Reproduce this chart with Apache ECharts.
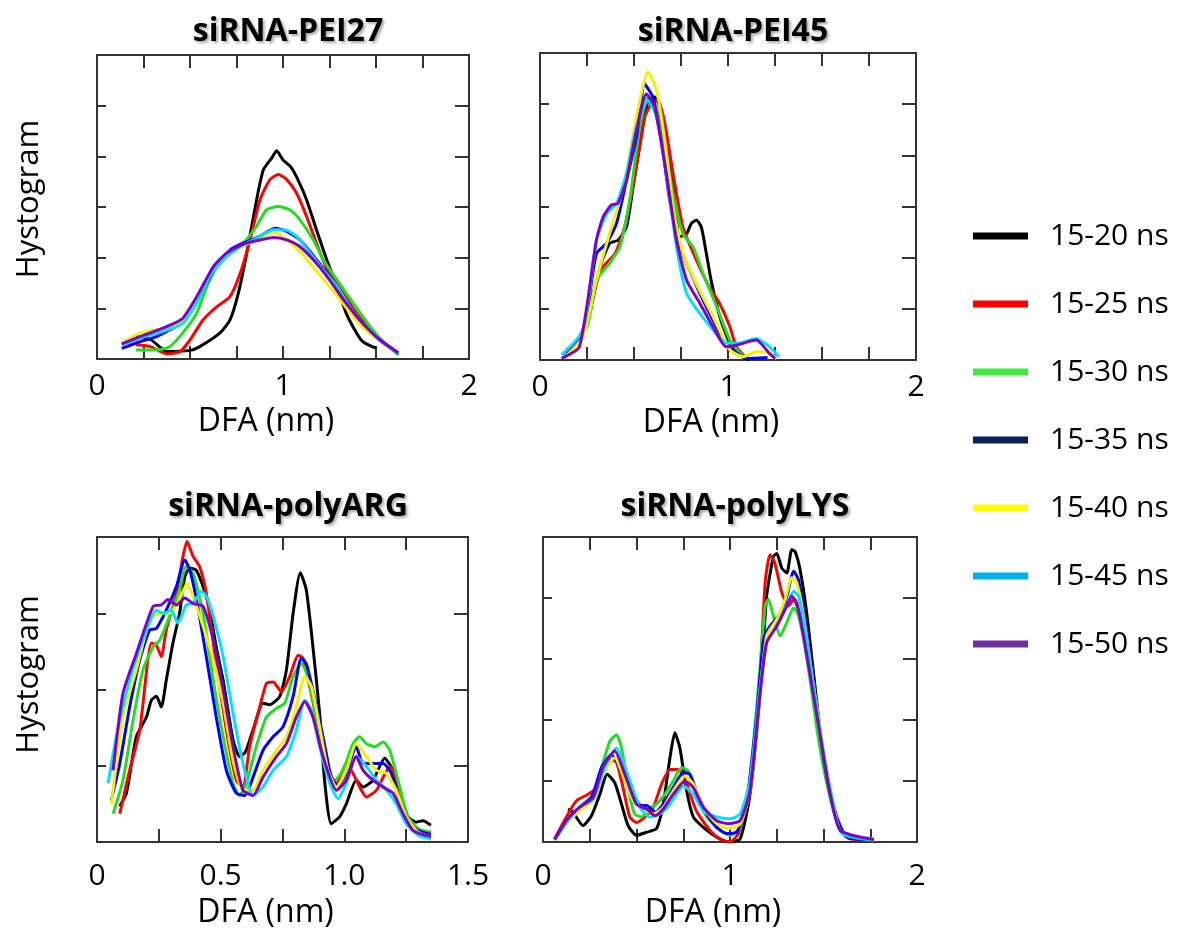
<!DOCTYPE html>
<html>
<head>
<meta charset="utf-8">
<script src="https://cdn.jsdelivr.net/npm/echarts@6/dist/echarts.min.js"></script>
<style>
html,body{margin:0;padding:0;background:#fff;}
#chart{width:1189px;height:930px;}
</style>
</head>
<body>
<div id="chart"></div>
<script>
// ---------- DATA ----------
const seriesNames = ['15-20 ns','15-25 ns','15-30 ns','15-35 ns','15-40 ns','15-45 ns','15-50 ns'];
const panelTitles = ['siRNA-PEI27','siRNA-PEI45','siRNA-polyARG','siRNA-polyLYS'];
const xTickLabelsPanel3 = ['0','0.5','1.0','1.5'];

// Panel 1: siRNA-PEI27  [DFA, histogram]
const pei27_1520 = [[0.21,0.44],[0.29,0.38],[0.375,0.15],[0.5,0.17],[0.55,0.24],[0.66,0.51],[0.715,0.77],[0.76,1.3],[0.805,2.09],[0.858,3.14],[0.894,3.73],[0.94,3.97],[0.966,4.11],[1.0,3.93],[1.04,3.8],[1.08,3.54],[1.127,3.14],[1.18,2.55],[1.235,1.96],[1.29,1.43],[1.34,0.9],[1.396,0.51],[1.43,0.34],[1.5,0.21]];
const pei27_1525 = [[0.21,0.28],[0.29,0.24],[0.375,0.1],[0.446,0.145],[0.5,0.375],[0.57,0.77],[0.643,1.03],[0.715,1.23],[0.77,1.69],[0.823,2.35],[0.876,3.14],[0.93,3.54],[0.975,3.64],[1.02,3.54],[1.073,3.27],[1.127,2.81],[1.2,2.09],[1.25,1.69],[1.325,1.3],[1.396,0.9],[1.486,0.51],[1.54,0.31],[1.62,0.11]];
const pei27_1530 = [[0.21,0.18],[0.32,0.18],[0.39,0.24],[0.46,0.51],[0.536,0.9],[0.59,1.43],[0.643,1.82],[0.715,2.09],[0.787,2.29],[0.858,2.62],[0.91,2.94],[0.975,3.01],[1.038,2.94],[1.09,2.75],[1.163,2.35],[1.217,1.96],[1.29,1.56],[1.378,1.1],[1.468,0.64],[1.54,0.34],[1.62,0.08]];
const pei27_1535 = [[0.133,0.21],[0.23,0.34],[0.32,0.44],[0.446,0.7],[0.518,1.03],[0.59,1.5],[0.643,1.82],[0.715,2.15],[0.787,2.29],[0.876,2.42],[0.957,2.58],[1.02,2.52],[1.09,2.35],[1.18,1.96],[1.25,1.63],[1.325,1.23],[1.396,0.84],[1.486,0.47],[1.557,0.28],[1.62,0.11]];
const pei27_1540 = [[0.133,0.31],[0.23,0.51],[0.375,0.62],[0.46,0.75],[0.536,1.15],[0.607,1.68],[0.68,1.98],[0.77,2.2],[0.858,2.36],[0.95,2.5],[1.02,2.35],[1.1,2.09],[1.19,1.69],[1.28,1.3],[1.36,0.92],[1.43,0.62],[1.52,0.36],[1.62,0.12]];
const pei27_1545 = [[0.133,0.28],[0.23,0.41],[0.375,0.57],[0.46,0.7],[0.536,1.1],[0.607,1.63],[0.68,1.96],[0.77,2.22],[0.858,2.38],[0.95,2.55],[1.02,2.54],[1.073,2.42],[1.145,2.09],[1.217,1.76],[1.29,1.43],[1.36,1.03],[1.43,0.7],[1.52,0.38],[1.62,0.11]];
const pei27_1550 = [[0.133,0.3],[0.23,0.44],[0.375,0.64],[0.46,0.8],[0.536,1.23],[0.625,1.82],[0.697,2.09],[0.787,2.27],[0.876,2.35],[0.95,2.4],[1.02,2.35],[1.09,2.22],[1.18,1.89],[1.25,1.56],[1.34,1.1],[1.43,0.7],[1.52,0.38],[1.62,0.125]];

// Panel 2: siRNA-PEI45
const pei45_1520 = [[0.14,0.2],[0.18,0.29],[0.25,0.72],[0.32,1.82],[0.37,2.28],[0.415,2.34],[0.46,2.6],[0.495,3.38],[0.55,4.62],[0.575,5.07],[0.61,5.14],[0.637,4.94],[0.672,4.29],[0.708,3.45],[0.743,2.41],[0.78,2.47],[0.805,2.67],[0.832,2.73],[0.858,2.6],[0.885,2.08],[0.91,1.56],[0.956,0.85],[1.01,0.33],[1.08,0.065],[1.115,0.0]];
const pei45_1525 = [[0.124,0.03],[0.21,0.39],[0.28,1.3],[0.336,1.82],[0.4,2.08],[0.45,2.6],[0.5,3.51],[0.557,4.75],[0.593,5.01],[0.628,5.07],[0.664,4.62],[0.708,3.64],[0.76,2.6],[0.832,1.95],[0.9,1.43],[0.956,1.1],[1.01,0.65],[1.044,0.26],[1.09,0.065]];
const pei45_1530 = [[0.124,0.03],[0.25,0.65],[0.3,1.56],[0.37,1.89],[0.425,2.21],[0.48,3.19],[0.53,4.55],[0.575,5.14],[0.61,5.01],[0.655,4.42],[0.708,3.25],[0.76,2.47],[0.814,2.21],[0.867,1.69],[0.94,1.04],[1.01,0.39],[1.08,0.065]];
const pei45_1535 = [[0.124,0.03],[0.23,0.59],[0.3,2.08],[0.354,2.28],[0.407,2.67],[0.46,3.51],[0.513,4.36],[0.557,5.4],[0.575,5.3],[0.6,5.14],[0.646,4.29],[0.69,3.12],[0.743,2.21],[0.796,1.76],[0.85,1.3],[0.92,0.78],[0.99,0.33],[1.1,0.03],[1.21,0.05]];
const pei45_1540 = [[0.124,0.03],[0.23,0.46],[0.3,1.56],[0.37,2.47],[0.44,3.32],[0.513,4.75],[0.575,5.63],[0.62,5.27],[0.664,4.29],[0.708,2.99],[0.76,2.08],[0.83,1.5],[0.92,0.85],[1.01,0.2],[1.08,0.065],[1.15,0.16],[1.22,0.13],[1.26,0.03]];
const pei45_1545 = [[0.115,0.1],[0.23,0.59],[0.3,2.34],[0.354,2.86],[0.407,3.06],[0.46,3.64],[0.513,4.55],[0.575,5.07],[0.62,4.75],[0.672,3.64],[0.726,2.21],[0.78,1.3],[0.85,0.91],[0.92,0.59],[0.99,0.33],[1.06,0.33],[1.15,0.42],[1.22,0.26],[1.27,0.065]];
const pei45_1550 = [[0.115,0.03],[0.21,0.26],[0.3,2.34],[0.336,2.8],[0.38,3.03],[0.415,3.06],[0.46,3.51],[0.513,4.49],[0.566,5.2],[0.61,4.94],[0.672,3.64],[0.726,2.34],[0.78,1.56],[0.85,1.11],[0.92,0.65],[0.99,0.26],[1.044,0.29],[1.15,0.39],[1.22,0.13],[1.25,0.03]];

// Panel 3: siRNA-polyARG
const parg_1520 = [[0.092,0.47],[0.119,0.64],[0.159,1.38],[0.2,1.64],[0.22,1.86],[0.24,1.91],[0.26,1.77],[0.28,2.12],[0.307,2.61],[0.334,3.0],[0.355,3.48],[0.375,3.59],[0.4,3.57],[0.429,3.35],[0.456,3.04],[0.482,2.56],[0.51,2.12],[0.55,1.34],[0.577,1.12],[0.6,1.18],[0.631,1.47],[0.671,1.82],[0.698,1.8],[0.739,1.91],[0.766,2.26],[0.793,3.0],[0.822,3.53],[0.846,3.31],[0.873,2.56],[0.9,1.69],[0.92,0.81],[0.947,0.24],[0.981,0.33],[1.008,0.5],[1.048,0.81],[1.076,0.72],[1.116,0.81],[1.163,1.1],[1.197,0.94],[1.23,0.59],[1.257,0.33],[1.29,0.26],[1.318,0.28],[1.35,0.22]];
const parg_1525 = [[0.092,0.37],[0.132,0.94],[0.173,1.47],[0.22,2.61],[0.24,2.58],[0.26,2.43],[0.28,2.78],[0.321,3.26],[0.348,3.75],[0.364,3.94],[0.388,3.75],[0.415,3.61],[0.442,3.26],[0.482,2.34],[0.523,1.47],[0.563,0.81],[0.59,0.72],[0.617,1.25],[0.658,1.77],[0.685,2.08],[0.712,2.1],[0.745,1.97],[0.779,2.17],[0.813,2.45],[0.833,2.41],[0.86,2.04],[0.9,1.42],[0.934,0.85],[0.968,0.77],[1.008,1.03],[1.035,0.9],[1.062,0.72],[1.089,0.59],[1.13,0.68],[1.157,0.85],[1.184,0.99],[1.217,0.77],[1.244,0.37],[1.278,0.2],[1.35,0.11]];
const parg_1530 = [[0.065,0.37],[0.105,0.81],[0.146,1.6],[0.186,2.26],[0.227,2.56],[0.254,2.65],[0.294,2.96],[0.334,3.31],[0.36,3.61],[0.388,3.53],[0.429,3.0],[0.47,2.12],[0.51,1.38],[0.55,0.77],[0.577,0.61],[0.604,0.77],[0.644,1.25],[0.685,1.64],[0.725,1.75],[0.759,1.82],[0.793,2.17],[0.826,2.34],[0.853,2.17],[0.887,1.64],[0.927,1.03],[0.961,0.81],[0.995,0.94],[1.035,1.29],[1.062,1.38],[1.089,1.29],[1.123,1.25],[1.157,1.31],[1.184,1.2],[1.224,0.72],[1.257,0.33],[1.298,0.175],[1.35,0.13]];
const parg_1535 = [[0.058,0.55],[0.092,1.03],[0.132,1.77],[0.173,2.39],[0.213,2.78],[0.24,2.8],[0.28,3.04],[0.321,3.35],[0.355,3.7],[0.375,3.57],[0.402,3.18],[0.442,2.43],[0.482,1.64],[0.523,0.94],[0.563,0.64],[0.597,0.61],[0.631,0.85],[0.671,1.2],[0.712,1.38],[0.752,1.51],[0.793,1.91],[0.826,2.41],[0.846,2.34],[0.873,1.99],[0.914,1.38],[0.947,0.85],[0.974,0.74],[1.008,0.9],[1.048,1.25],[1.076,1.03],[1.116,1.03],[1.157,1.03],[1.19,0.9],[1.224,0.55],[1.257,0.28],[1.298,0.15],[1.35,0.1]];
const parg_1540 = [[0.058,0.5],[0.105,1.64],[0.159,2.26],[0.213,2.91],[0.254,3.0],[0.294,3.0],[0.334,3.18],[0.364,3.39],[0.388,3.22],[0.429,2.83],[0.47,2.39],[0.51,1.82],[0.55,1.07],[0.59,0.68],[0.631,0.68],[0.671,0.94],[0.725,1.2],[0.766,1.38],[0.806,1.77],[0.84,2.17],[0.867,2.04],[0.9,1.51],[0.934,0.94],[0.968,0.72],[1.008,0.94],[1.048,1.29],[1.089,1.12],[1.13,0.94],[1.17,0.9],[1.21,0.68],[1.25,0.33],[1.298,0.13],[1.35,0.07]];
const parg_1545 = [[0.045,0.77],[0.078,1.38],[0.132,2.12],[0.2,2.78],[0.24,3.04],[0.267,3.0],[0.3,3.04],[0.327,2.87],[0.361,3.11],[0.388,3.13],[0.422,3.29],[0.442,3.22],[0.47,2.96],[0.51,2.43],[0.55,1.69],[0.59,1.03],[0.631,0.61],[0.671,0.72],[0.712,0.94],[0.766,1.12],[0.806,1.47],[0.84,1.86],[0.867,1.73],[0.9,1.25],[0.941,0.77],[0.974,0.57],[1.008,0.77],[1.048,1.12],[1.089,0.99],[1.13,0.81],[1.17,0.68],[1.21,0.5],[1.25,0.24],[1.298,0.09],[1.35,0.04]];
const parg_1550 = [[0.065,0.94],[0.105,1.95],[0.159,2.47],[0.227,3.09],[0.26,3.11],[0.287,3.18],[0.321,3.11],[0.355,3.2],[0.388,3.13],[0.429,3.09],[0.47,2.65],[0.51,1.99],[0.55,1.25],[0.59,0.68],[0.631,0.61],[0.671,0.85],[0.725,1.12],[0.766,1.29],[0.806,1.64],[0.84,1.84],[0.873,1.64],[0.914,1.12],[0.968,0.68],[1.008,0.81],[1.048,1.12],[1.076,0.94],[1.116,0.81],[1.157,0.72],[1.197,0.64],[1.237,0.37],[1.278,0.15],[1.35,0.07]];

// Panel 4: siRNA-polyLYS
const plys_1520 = [[0.134,0.54],[0.16,0.49],[0.214,0.27],[0.259,0.43],[0.304,0.78],[0.343,1.11],[0.384,0.97],[0.42,0.62],[0.455,0.27],[0.5,0.11],[0.554,0.16],[0.607,0.22],[0.643,0.62],[0.679,1.38],[0.705,1.79],[0.732,1.54],[0.768,0.84],[0.804,0.41],[0.857,0.24],[0.929,0.08],[0.99,0.0],[1.054,0.05],[1.107,0.78],[1.16,2.41],[1.196,4.03],[1.232,4.68],[1.25,4.73],[1.277,4.49],[1.304,4.41],[1.33,4.79],[1.348,4.76],[1.375,4.46],[1.41,3.76],[1.446,2.79],[1.482,1.81],[1.518,1.0],[1.545,0.73]];
const plys_1525 = [[0.0625,0.05],[0.125,0.41],[0.18,0.68],[0.24,0.78],[0.286,0.89],[0.34,1.33],[0.384,1.33],[0.42,1.0],[0.464,0.41],[0.5,0.32],[0.545,0.41],[0.59,0.57],[0.634,0.95],[0.68,1.19],[0.723,1.19],[0.768,0.95],[0.82,0.51],[0.893,0.19],[0.946,0.05],[1.0,0.0],[1.045,0.14],[1.107,0.89],[1.16,2.68],[1.188,4.25],[1.214,4.71],[1.24,4.57],[1.277,4.09],[1.313,3.87],[1.34,3.98],[1.375,3.71],[1.41,3.06],[1.446,2.41],[1.482,1.76],[1.536,0.78],[1.59,0.19],[1.643,0.05],[1.77,0.04]];
const plys_1530 = [[0.0625,0.04],[0.125,0.3],[0.196,0.57],[0.268,0.78],[0.313,1.22],[0.357,1.65],[0.393,1.76],[0.42,1.54],[0.455,0.89],[0.49,0.46],[0.527,0.41],[0.563,0.54],[0.607,0.62],[0.652,0.78],[0.696,1.0],[0.741,1.22],[0.777,1.16],[0.82,0.78],[0.875,0.41],[0.946,0.19],[1.0,0.11],[1.054,0.24],[1.107,1.06],[1.16,2.84],[1.188,3.87],[1.205,3.98],[1.232,3.71],[1.268,3.38],[1.304,3.6],[1.34,3.84],[1.366,3.71],[1.393,3.33],[1.43,2.62],[1.464,1.87],[1.5,1.22],[1.554,0.51],[1.607,0.14],[1.77,0.04]];
const plys_1535 = [[0.0625,0.05],[0.125,0.35],[0.196,0.57],[0.259,0.73],[0.313,1.22],[0.366,1.43],[0.41,1.22],[0.464,0.84],[0.527,0.6],[0.554,0.6],[0.6,0.49],[0.643,0.62],[0.696,0.89],[0.75,1.14],[0.786,1.11],[0.82,0.84],[0.875,0.46],[0.929,0.24],[0.982,0.14],[1.036,0.16],[1.09,0.68],[1.143,2.08],[1.18,3.33],[1.214,3.54],[1.26,3.71],[1.304,4.03],[1.34,4.44],[1.366,4.3],[1.402,3.65],[1.438,2.79],[1.473,1.98],[1.518,1.06],[1.571,0.41],[1.625,0.08],[1.77,0.04]];
const plys_1540 = [[0.0625,0.04],[0.125,0.3],[0.196,0.51],[0.268,0.68],[0.32,1.11],[0.384,1.38],[0.4375,1.0],[0.482,0.68],[0.536,0.54],[0.59,0.46],[0.643,0.57],[0.696,0.84],[0.759,1.08],[0.804,0.95],[0.857,0.57],[0.929,0.3],[0.99,0.22],[1.054,0.3],[1.107,0.84],[1.16,2.41],[1.196,3.38],[1.25,3.65],[1.295,3.98],[1.33,4.33],[1.357,4.25],[1.393,3.71],[1.438,2.73],[1.482,1.87],[1.536,0.84],[1.59,0.19],[1.77,0.04]];
const plys_1545 = [[0.0625,0.03],[0.125,0.32],[0.196,0.57],[0.268,0.7],[0.33,1.22],[0.393,1.54],[0.446,1.16],[0.518,0.57],[0.571,0.41],[0.625,0.46],[0.679,0.62],[0.75,0.92],[0.804,0.78],[0.857,0.51],[0.929,0.41],[1.0,0.38],[1.054,0.46],[1.107,1.0],[1.16,2.52],[1.196,3.27],[1.25,3.54],[1.304,3.87],[1.34,4.11],[1.366,4.03],[1.402,3.49],[1.446,2.57],[1.49,1.65],[1.545,0.73],[1.598,0.14],[1.77,0.03]];
const plys_1550 = [[0.0625,0.04],[0.125,0.35],[0.196,0.57],[0.268,0.73],[0.32,1.22],[0.384,1.49],[0.4375,1.11],[0.5,0.62],[0.554,0.54],[0.6,0.43],[0.643,0.54],[0.696,0.78],[0.759,1.0],[0.804,0.89],[0.857,0.57],[0.929,0.35],[0.99,0.3],[1.054,0.35],[1.107,0.84],[1.16,2.41],[1.196,3.27],[1.25,3.54],[1.304,3.87],[1.33,4.03],[1.357,3.92],[1.393,3.38],[1.438,2.57],[1.482,1.76],[1.536,0.78],[1.59,0.19],[1.77,0.04]];

const panelData = [
  [pei27_1520, pei27_1525, pei27_1530, pei27_1535, pei27_1540, pei27_1545, pei27_1550],
  [pei45_1520, pei45_1525, pei45_1530, pei45_1535, pei45_1540, pei45_1545, pei45_1550],
  [parg_1520, parg_1525, parg_1530, parg_1535, parg_1540, parg_1545, parg_1550],
  [plys_1520, plys_1525, plys_1530, plys_1535, plys_1540, plys_1545, plys_1550]
];
const xMax = [2, 2, 1.5, 2];
const yMax = [6, 6, 4, 5];

// ---------- STYLE ----------
const lineColors = ['#000000','#ff0000','#22dd22','#0000ff','#f2f200','#00e0ff','#8000c8'];
const legendColors = ['#000000','#ff0000','#3ee83e','#0b1f5c','#ffff00','#00b0f0','#7030a0'];
const FONT = 'Open Sans';
const grids = [
  {left: 97, top: 55, width: 372, height: 304},
  {left: 540, top: 53, width: 376, height: 307},
  {left: 97, top: 537, width: 371, height: 305},
  {left: 543, top: 537, width: 374, height: 308}
];
const titlePos = [[283, 11], [728, 11], [283, 486], [730, 486]];
const frameColor = '#333';

function xFmt(i) {
  return function (v) {
    const r = Math.round(v * 1000) / 1000;
    if (i === 2) {
      const idx = Math.round(r / 0.5);
      if (Math.abs(r - idx * 0.5) < 1e-6) return xTickLabelsPanel3[idx] || '';
      return '';
    }
    return Number.isInteger(r) ? String(r) : '';
  };
}

const lineSt = {color: frameColor, width: 2};
const xAxes = [], yAxes = [], series = [], titles = [];
grids.forEach((g, i) => {
  const bottomRow = i >= 2;
  const leftCol = (i % 2) === 0;
  xAxes.push({
    type: 'value', gridIndex: i, position: 'bottom', min: 0, max: xMax[i], interval: 0.25,
    name: 'DFA (nm)', nameLocation: 'middle', nameGap: bottomRow ? 55 : 47,
    nameTextStyle: {fontFamily: FONT, fontSize: 32, color: '#000', padding: [0, 34, 0, 0]},
    axisLine: {show: true, onZero: false, lineStyle: lineSt},
    axisTick: {show: true, inside: true, length: 13, lineStyle: lineSt},
    axisLabel: {show: true, formatter: xFmt(i), fontFamily: FONT, fontSize: 30, color: '#000', margin: bottomRow ? 19 : 12, hideOverlap: false},
    splitLine: {show: false}
  });
  xAxes.push({
    type: 'value', gridIndex: i, position: 'top', min: 0, max: xMax[i], interval: 0.25,
    axisLine: {show: true, onZero: false, lineStyle: lineSt},
    axisTick: {show: true, inside: true, length: 13, lineStyle: lineSt},
    axisLabel: {show: false}, splitLine: {show: false}
  });
  yAxes.push({
    type: 'value', gridIndex: i, position: 'left', min: 0, max: yMax[i], interval: 1,
    name: leftCol ? 'Hystogram' : '', nameLocation: 'middle', nameGap: 52, nameRotate: 90,
    nameTextStyle: {fontFamily: FONT, fontSize: 31, color: '#000', padding: [0, 0, 0, bottomRow ? 30 : 16]},
    axisLine: {show: true, onZero: false, lineStyle: lineSt},
    axisTick: {show: true, inside: true, length: 9, lineStyle: lineSt},
    axisLabel: {show: false}, splitLine: {show: false}
  });
  yAxes.push({
    type: 'value', gridIndex: i, position: 'right', min: 0, max: yMax[i], interval: 1,
    axisLine: {show: true, onZero: false, lineStyle: lineSt},
    axisTick: {show: true, inside: true, length: 14, lineStyle: lineSt},
    axisLabel: {show: false}, splitLine: {show: false}
  });
  panelData[i].forEach((d, k) => {
    series.push({
      type: 'line', name: seriesNames[k], xAxisIndex: 2 * i, yAxisIndex: 2 * i,
      data: d, showSymbol: false, symbol: 'none', smooth: 0.2,
      lineStyle: {color: lineColors[k], width: 3}, itemStyle: {color: legendColors[k]},
      animation: false, z: 2 + k
    });
  });
  titles.push({
    text: panelTitles[i], left: titlePos[i][0], top: titlePos[i][1], textAlign: 'center',
    textStyle: {fontFamily: FONT, fontSize: 32, fontWeight: 'bold', color: '#000',
      textShadowColor: 'rgba(0,0,0,0.35)', textShadowBlur: 3, textShadowOffsetX: 2, textShadowOffsetY: 2}
  });
});

const chart = echarts.init(document.getElementById('chart'), null, {renderer: 'canvas'});
chart.setOption({
  backgroundColor: '#fff',
  animation: false,
  title: titles,
  grid: grids,
  xAxis: xAxes,
  yAxis: yAxes,
  legend: {
    orient: 'vertical', left: 968, top: 213, itemGap: 32, icon: 'rect', itemWidth: 55, itemHeight: 7,
    selectedMode: false,
    data: seriesNames.map((n, k) => ({name: n, itemStyle: {color: legendColors[k]}})),
    textStyle: {fontFamily: FONT, fontSize: 30, color: '#000', lineHeight: 36, padding: [0, 0, 0, 17]}
  },
  series: series
});
</script>
</body>
</html>
